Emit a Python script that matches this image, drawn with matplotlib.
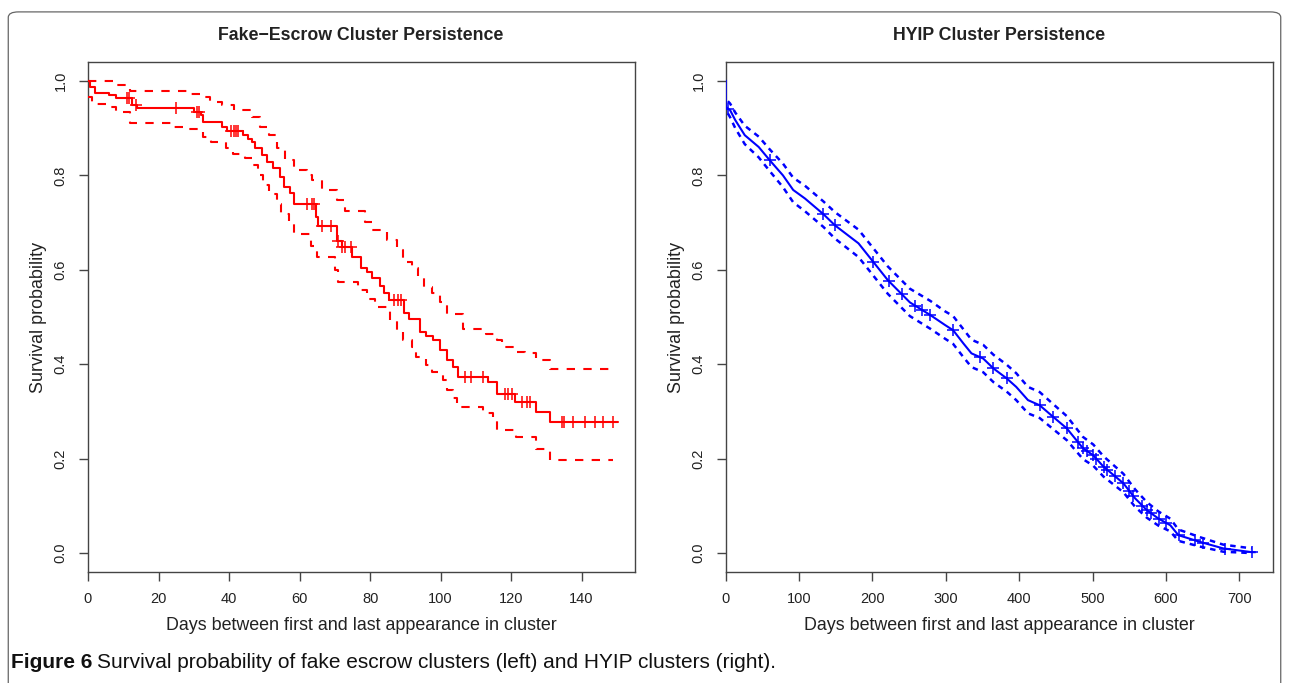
import numpy as np
import matplotlib
matplotlib.use("Agg")
import matplotlib.pyplot as plt
from matplotlib.patches import FancyBboxPatch

# ---- Fake-escrow clusters: Kaplan-Meier steps (time of drop, value after drop)
fe_times = [0, 0.5, 2, 6, 8, 12.5, 14, 30, 32, 32.7, 38, 39.5, 44, 45.5, 46.5, 47.4,
            49.3, 50.7, 52.6, 54.5, 55.5, 57.4, 58.4, 64.6, 65.2, 70.5, 72, 75, 77.4,
            79, 80.5, 82.8, 84, 85.4, 89.6, 91, 94.2, 96, 97.9, 99.8, 101.7, 103.6,
            105, 113.5, 115.9, 121.1, 127.2, 131, 150]
fe_surv = [1.0, 0.988, 0.975, 0.970, 0.963, 0.949, 0.943, 0.934, 0.928, 0.913, 0.903,
           0.893, 0.885, 0.878, 0.871, 0.857, 0.843, 0.829, 0.815, 0.797, 0.776, 0.762,
           0.740, 0.712, 0.693, 0.662, 0.649, 0.628, 0.604, 0.596, 0.583, 0.565, 0.551,
           0.537, 0.509, 0.495, 0.469, 0.459, 0.451, 0.430, 0.409, 0.394, 0.373, 0.363,
           0.336, 0.320, 0.299, 0.278, 0.278]
fe_cens = [11, 11.7, 13.5, 25, 31, 31.5, 40.5, 41.5, 42, 42.5, 62, 63.4, 64, 66.5, 69,
           71, 72, 73, 74.6, 86.8, 87.8, 88.7, 106.8, 108.7, 112, 118.3, 119.2, 120.2,
           123, 124.5, 125.3, 134.3, 135, 137.6, 140.9, 143.8, 146, 149]

fe_up_times = [0, 7, 12, 28, 32, 34.5, 38, 41.3, 46.5, 48.8, 51.4, 53.7, 56, 58.5, 62,
               63.5, 66.4, 70.5, 73, 78.6, 80.5, 84.7, 87.5, 89.4, 91.8, 93.7, 95.2,
               97.5, 99.9, 101.8, 106.5, 113, 116, 117.5, 121, 124, 127.2, 131, 149]
fe_up = [1.0, 0.991, 0.979, 0.973, 0.966, 0.956, 0.950, 0.938, 0.924, 0.903, 0.885,
         0.857, 0.832, 0.812, 0.800, 0.790, 0.770, 0.747, 0.725, 0.701, 0.684, 0.663,
         0.642, 0.617, 0.603, 0.582, 0.564, 0.550, 0.532, 0.507, 0.475, 0.465, 0.451,
         0.437, 0.426, 0.423, 0.409, 0.390, 0.390]

fe_lo_times = [0, 1, 6, 8, 12, 23.5, 28, 32.7, 35, 39, 41, 44.4, 46.8, 48.2, 49.6, 51.4,
               53.6, 54.8, 57, 58.4, 63.3, 65, 70, 71, 76.7, 79, 81.4, 85.6, 87.5, 89.4,
               91.8, 93, 96, 97.6, 100.8, 101.7, 103.6, 104.6, 112, 114.9, 115.9, 121.5,
               127.2, 131, 149]
fe_lo = [0.965, 0.952, 0.945, 0.934, 0.910, 0.903, 0.899, 0.881, 0.871, 0.857, 0.846,
         0.836, 0.822, 0.800, 0.779, 0.760, 0.740, 0.719, 0.698, 0.675, 0.650, 0.627,
         0.600, 0.574, 0.557, 0.539, 0.521, 0.493, 0.472, 0.451, 0.437, 0.416, 0.398,
         0.384, 0.366, 0.345, 0.328, 0.310, 0.296, 0.285, 0.260, 0.246, 0.220, 0.197,
         0.197]

# ---- HYIP clusters
hy_days = [0, 0, 6, 13, 26, 45, 60, 78, 92, 108, 133, 149, 181, 201, 221, 251, 279, 299,
           310, 324, 335, 351, 365, 383, 396, 412, 428, 446, 465, 487, 501, 515, 542,
           558, 574, 590, 606, 617, 646, 678, 717, 721]
hy_surv = [1.0, 0.945, 0.938, 0.917, 0.885, 0.860, 0.832, 0.800, 0.769, 0.751, 0.718,
           0.694, 0.656, 0.617, 0.578, 0.531, 0.504, 0.483, 0.472, 0.444, 0.423, 0.412,
           0.391, 0.370, 0.352, 0.324, 0.313, 0.289, 0.264, 0.222, 0.207, 0.183, 0.148,
           0.116, 0.091, 0.073, 0.059, 0.038, 0.024, 0.010, 0.002, 0.002]
hy_ci_days = [3, 6, 13, 26, 45, 60, 78, 92, 108, 133, 149, 181, 201, 221, 251, 279, 299,
              310, 324, 335, 351, 365, 383, 396, 412, 428, 446, 465, 487, 501, 515, 542,
              558, 574, 590, 606, 617, 646, 678, 717]
hy_up = [0.957, 0.952, 0.933, 0.905, 0.882, 0.855, 0.825, 0.795, 0.778, 0.745, 0.722,
         0.685, 0.646, 0.607, 0.560, 0.534, 0.512, 0.502, 0.474, 0.452, 0.441, 0.420,
         0.399, 0.381, 0.352, 0.341, 0.316, 0.290, 0.246, 0.230, 0.205, 0.168, 0.135,
         0.108, 0.088, 0.073, 0.050, 0.034, 0.018, 0.010]
hy_lo = [0.931, 0.923, 0.900, 0.866, 0.838, 0.809, 0.775, 0.743, 0.724, 0.691, 0.666,
         0.627, 0.588, 0.549, 0.502, 0.475, 0.454, 0.443, 0.415, 0.394, 0.383, 0.362,
         0.342, 0.324, 0.296, 0.286, 0.263, 0.239, 0.199, 0.185, 0.162, 0.129, 0.098,
         0.075, 0.058, 0.046, 0.026, 0.014, 0.003, 0.0]
hy_cens = [3, 60, 133, 149, 201, 222, 240, 258, 268, 278, 310, 346, 365, 383, 428, 446,
           465, 480, 487, 493, 500, 505, 515, 520, 530, 542, 550, 555, 568, 574, 580,
           590, 600, 618, 640, 650, 680, 717]

plt.rcParams["font.family"] = ["Liberation Sans", "DejaVu Sans"]

fig = plt.figure(figsize=(12.89, 6.83), dpi=100)
W, H = 1289, 683
ax1 = fig.add_axes([88 / W, 1 - 572 / H, 546.5 / W, 510 / H])
ax2 = fig.add_axes([725.7 / W, 1 - 572 / H, 547.3 / W, 510 / H])

red = "#ff0000"
blue = "#0000ff"

ax1.step(fe_times, fe_surv, where="post", color=red, lw=1.5, zorder=3)
ax1.step(fe_up_times, fe_up, where="post", color=red, lw=1.5, dashes=(4, 4), zorder=3)
ax1.step(fe_lo_times, fe_lo, where="post", color=red, lw=1.5, dashes=(4, 4), zorder=3)
idx = np.searchsorted(fe_times, fe_cens, side="right") - 1
ax1.plot(fe_cens, np.array(fe_surv)[idx], ls="none", marker="+", ms=8,
         mew=1.1, color=red, zorder=3)

ax2.plot(hy_days, hy_surv, color=blue, lw=1.5, zorder=3)
ax2.plot(hy_ci_days, hy_up, color=blue, lw=1.8, dashes=(2.2, 2.0), zorder=3)
ax2.plot(hy_ci_days, hy_lo, color=blue, lw=1.8, dashes=(2.2, 2.0), zorder=3)
ax2.plot(hy_cens, np.interp(hy_cens, hy_days[1:], hy_surv[1:]), ls="none",
         marker="+", ms=8, mew=1.1, color=blue, zorder=3)

ax1.set_xlim(0, 155)
ax1.set_xticks([0, 20, 40, 60, 80, 100, 120, 140])
ax2.set_xlim(0, 746)
ax2.set_xticks([0, 100, 200, 300, 400, 500, 600, 700])

for ax in (ax1, ax2):
    ax.set_ylim(-0.04, 1.04)
    ax.set_yticks([0.0, 0.2, 0.4, 0.6, 0.8, 1.0])
    ax.set_yticklabels(["0.0", "0.2", "0.4", "0.6", "0.8", "1.0"])
    for s in ax.spines.values():
        s.set_color("#444444")
        s.set_linewidth(1.0)
    ax.tick_params(direction="out", length=6.5, width=1.0, color="#444444",
                   labelsize=10.5, labelcolor="#222222")
    ax.tick_params(axis="x", pad=8)
    ax.tick_params(axis="y", pad=8, labelrotation=90)
    for lab in ax.get_yticklabels():
        lab.set_va("center")
    ax.set_xlabel("Days between first and last appearance in cluster",
                  fontsize=12.9, color="#222222")
    ax.set_ylabel("Survival probability", fontsize=12.9, color="#222222")
    ax.xaxis.set_label_coords(0.5, -0.088)
    ax.yaxis.set_label_coords(-0.075, 0.5)

fig.text(361 / W, 1 - 35 / H, "Fake\u2212Escrow Cluster Persistence", ha="center",
         va="center", fontsize=12.8, fontweight="bold", color="#222222")
fig.text(999 / W, 1 - 35 / H, "HYIP Cluster Persistence", ha="center",
         va="center", fontsize=12.8, fontweight="bold", color="#222222")

# outer rounded frame
frame = FancyBboxPatch((16 / W, -0.1), 1257 / W, 1 - 16 / H + 0.1,
                       boxstyle="round,pad=0.006,rounding_size=0.008",
                       transform=fig.transFigure, fill=False, ec="#666666", lw=0.9)
fig.patches.append(frame)

cap_font = ["Liberation Sans", "DejaVu Sans"]
t1 = fig.text(11 / W, 1 - 663 / H, "Figure 6", fontsize=15, fontweight="bold",
              va="center", family=cap_font, color="#111111")
fig.canvas.draw()
bb = t1.get_window_extent()
fig.text(bb.x1 / W + 5 / W, 1 - 663 / H,
         "Survival probability of fake escrow clusters (left) and HYIP clusters (right).",
         fontsize=15, va="center", family=cap_font, color="#111111")

fig.savefig("out.png", dpi=100)
